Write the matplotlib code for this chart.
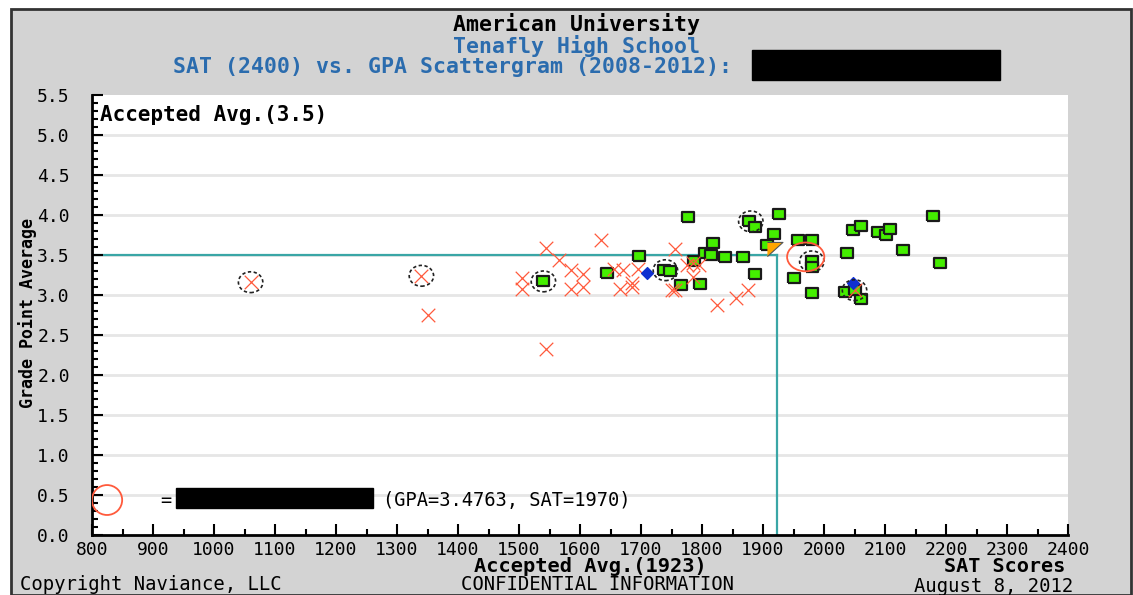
import matplotlib
matplotlib.use("Agg")
import matplotlib.pyplot as plt
from matplotlib.patches import Ellipse, Rectangle
from matplotlib.ticker import MultipleLocator

plt.rcParams['font.family'] = ['DejaVu Sans Mono']

# --- data ---
sat_rejected = [1060, 1340, 1350, 1505, 1505, 1545, 1635, 1565, 1585, 1605,
                1585, 1605, 1545, 1655, 1670, 1665, 1685, 1695, 1685, 1755,
                1775, 1785, 1795, 1785, 1750, 1755, 1825, 1855, 1875, 2050]
gpa_rejected = [3.16, 3.24, 2.75, 3.21, 3.07, 3.59, 3.69, 3.44, 3.31, 3.26,
                3.07, 3.10, 2.33, 3.33, 3.31, 3.07, 3.10, 3.33, 3.15, 3.58,
                3.37, 3.40, 3.37, 3.23, 3.06, 3.06, 2.87, 2.96, 3.06, 3.06]

sat_accepted = [1540, 1645, 1697, 1737, 1748, 1777, 1787, 1797, 1765, 1805,
                1815, 1818, 1838, 1868, 1877, 1887, 1887, 1907, 1918, 1926,
                1958, 1980, 1980, 1980, 1950, 1980, 2038, 2048, 2061, 2088,
                2101, 2108, 2129, 2179, 2190, 2034, 2060, 2050]
gpa_accepted = [3.17, 3.28, 3.49, 3.31, 3.30, 3.97, 3.43, 3.14, 3.12, 3.52,
                3.50, 3.65, 3.47, 3.47, 3.92, 3.85, 3.26, 3.62, 3.76, 4.01,
                3.69, 3.69, 3.42, 3.35, 3.21, 3.03, 3.53, 3.81, 3.86, 3.79,
                3.75, 3.83, 3.56, 3.99, 3.40, 3.04, 2.95, 3.06]

sat_waitlist = [1710, 2048]
gpa_waitlist = [3.28, 3.15]

sat_pending = [1918]
gpa_pending = [3.57]

sat_multi = [1060, 1340, 1540, 1740, 1880, 1980, 2050]
gpa_multi = [3.16, 3.24, 3.17, 3.31, 3.92, 3.42, 3.06]

avg_sat = 1923
avg_gpa = 3.5
you_sat = 1970
you_gpa = 3.4763

x_ticks = list(range(800, 2401, 100))
y_ticks = [0.0, 0.5, 1.0, 1.5, 2.0, 2.5, 3.0, 3.5, 4.0, 4.5, 5.0, 5.5]

BLUE = '#2b6cae'
TEAL = '#3aa6a6'
RED = '#ff5a3c'
GRAY = '#d3d3d3'

fig = plt.figure(figsize=(11.33, 5.95), dpi=100)
fig.patch.set_facecolor('white')
# gray panel with black frame
fig.patches.append(Rectangle((11 / 1133, 0), 1120 / 1133, 1 - 9 / 595,
                             transform=fig.transFigure, facecolor=GRAY,
                             edgecolor='#333333', linewidth=2, zorder=-10))

ax = fig.add_axes([92 / 1133, 60 / 595, 976 / 1133, 440 / 595])
ax.set_facecolor('white')
ax.set_xlim(800, 2400)
ax.set_ylim(0, 5.5)

for g in y_ticks[1:-1]:
    ax.axhline(g, color='#e6e6e6', linewidth=2, zorder=0)

# accepted average cross-hair
ax.plot([800, avg_sat], [avg_gpa, avg_gpa], color=TEAL, linewidth=1.6, zorder=1)
ax.plot([avg_sat, avg_sat], [0, avg_gpa], color=TEAL, linewidth=1.6, zorder=1)

box = [(-1.15, -1), (1.15, -1), (1.15, 1), (-1.15, 1), (-1.15, -1)]
ax.scatter(sat_accepted, gpa_accepted, marker=box, s=70, facecolor='#44ee00',
           edgecolor='#1a1a1a', linewidth=1.6, zorder=3)
ax.scatter(sat_rejected, gpa_rejected, marker='x', s=95, color=RED,
           linewidth=0.9, zorder=4)
ax.scatter(sat_waitlist, gpa_waitlist, marker='D', s=36, color='#1030d0',
           zorder=5)
ax.scatter(sat_pending, gpa_pending, marker=[(-1, 1), (1.2, 1), (-1, -1)],
           s=150, facecolor='#ffa500', edgecolor='#555555', linewidth=0.8,
           zorder=5)

for sx, gy in zip(sat_multi, gpa_multi):
    ax.add_patch(Ellipse((sx, gy), 40, 0.26, fill=False, edgecolor='#222222',
                         linestyle=(0, (2, 1.5)), linewidth=1.2, zorder=6))

ax.add_patch(Ellipse((you_sat, you_gpa), 61, 0.36, fill=False, edgecolor=RED,
                     linewidth=1.3, zorder=6))

# legend for the "you" marker
ax.add_patch(Ellipse((0.0154, 0.0795), 0.031, 0.068, transform=ax.transAxes,
                     fill=False, edgecolor=RED, linewidth=1.3, zorder=6))
ax.text(0.070, 0.0795, '=', transform=ax.transAxes, fontsize=13.5,
        va='center', ha='left')
ax.add_patch(Rectangle((0.086, 0.061), 0.202, 0.046, transform=ax.transAxes,
                       facecolor='black', edgecolor='black', zorder=6))
ax.text(0.298, 0.0795, '(GPA=%.4f, SAT=%d)' % (you_gpa, you_sat),
        transform=ax.transAxes, fontsize=13.5, va='center', ha='left')

ax.text(0.008, 0.955, 'Accepted Avg.(%.1f)' % avg_gpa, transform=ax.transAxes,
        fontsize=15, fontweight='bold', va='center', ha='left')

for side in ['top', 'right']:
    ax.spines[side].set_visible(False)
for side in ['left', 'bottom']:
    ax.spines[side].set_linewidth(2)
    ax.spines[side].set_color('black')

ax.set_xticks(x_ticks)
ax.set_xticklabels([str(t) for t in x_ticks])
ax.set_yticks(y_ticks)
ax.set_yticklabels(['%.1f' % t for t in y_ticks])
ax.xaxis.set_minor_locator(MultipleLocator(50))
ax.yaxis.set_minor_locator(MultipleLocator(0.1))
ax.tick_params(which='major', direction='in', length=8, width=1.5,
               labelsize=13, pad=4)
ax.tick_params(which='minor', direction='in', length=4, width=1.5)
ax.tick_params(axis='y', which='major', pad=16)

# titles
fig.text(577 / 1133, 1 - 24 / 595, 'American University', fontsize=15.5,
         fontweight='bold', ha='center', va='center')
fig.text(577 / 1133, 1 - 46 / 595, 'Tenafly High School', fontsize=15.5,
         fontweight='bold', color=BLUE, ha='center', va='center')
fig.text(173 / 1133, 1 - 67 / 595,
         'SAT (2400) vs. GPA Scattergram (2008-2012):', fontsize=15.5,
         fontweight='bold', color=BLUE, ha='left', va='center')
fig.patches.append(Rectangle((752 / 1133, 1 - 80 / 595), 248 / 1133, 30 / 595,
                             transform=fig.transFigure, facecolor='black',
                             edgecolor='black', zorder=2))

fig.text(28 / 1133, 1 - 313 / 595, 'Grade Point Average', fontsize=12,
         fontweight='bold', rotation=90, ha='center', va='center')
fig.text(590 / 1133, 1 - 566 / 595, 'Accepted Avg.(%d)' % avg_sat,
         fontsize=14.7, fontweight='bold', ha='center', va='center')
fig.text(1065 / 1133, 1 - 567 / 595, 'SAT Scores', fontsize=14.5,
         fontweight='bold', ha='right', va='center')
fig.text(20 / 1133, 1 - 585 / 595, 'Copyright Naviance, LLC', fontsize=13.6,
         ha='left', va='center')
fig.text(598 / 1133, 1 - 585 / 595, 'CONFIDENTIAL INFORMATION', fontsize=13.6,
         ha='center', va='center')
fig.text(1073 / 1133, 1 - 586 / 595, 'August 8, 2012', fontsize=13.6,
         ha='right', va='center')

fig.savefig('out.png', dpi=100, facecolor=fig.get_facecolor())
